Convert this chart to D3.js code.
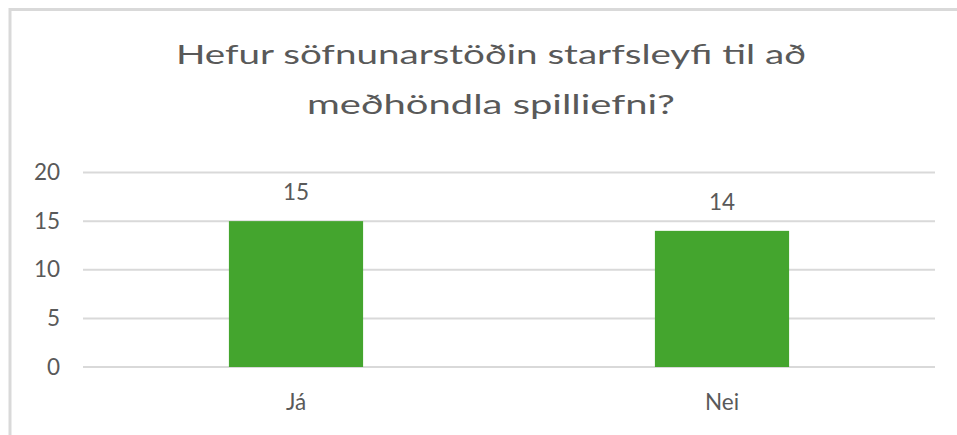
<!DOCTYPE html>
<html>
<head>
<meta charset="utf-8">
<script src="https://cdn.jsdelivr.net/npm/d3@7"></script>
<style>
    html, body { margin: 0; padding: 0; background: #fff; }
    #chart { width: 957px; height: 435px; }
    text { font-family: Lato, "Open Sans", sans-serif; fill: #595959; }
</style>
</head>
<body>
<div id="chart"></div>
<script>
// Hefur söfnunarstöðin starfsleyfi til að meðhöndla spilliefni?
const titleLines = ["Hefur söfnunarstöðin starfsleyfi til að", "meðhöndla spilliefni?"];
const categories = ["Já", "Nei"];
const counts = [15, 14];
const yTicks = [0, 5, 10, 15, 20];

(() => {
    const sel = d3.select("#chart");
    const W = 957, H = 435;
    const m = { top: 172.5, right: 22, bottom: 68, left: 83 };
    const w = W - m.left - m.right;
    const h = H - m.top - m.bottom;

    const svg = sel.append("svg").attr("width", W).attr("height", H);

    // outer chart frame (cut off at right/bottom like the screenshot)
    svg.append("rect")
        .attr("x", 10).attr("y", 9.5)
        .attr("width", W + 20).attr("height", H + 20)
        .attr("fill", "none").attr("stroke", "#d9d9d9").attr("stroke-width", 3);

    // title
    const tw = [630, 368];
    svg.append("g").selectAll("text")
        .data(titleLines)
        .join("text")
        .attr("x", 491)
        .attr("y", (d, i) => 63.5 + i * 50)
        .attr("text-anchor", "middle")
        .attr("font-size", 27.5)
        .attr("textLength", (d, i) => tw[i])
        .attr("lengthAdjust", "spacingAndGlyphs")
        .text(d => d);

    const g = svg.append("g").attr("transform", `translate(${m.left},${m.top})`);

    const x = d3.scaleBand().domain(categories).range([0, w]).paddingInner(0.685).paddingOuter(0.3425);
    const y = d3.scaleLinear().domain([0, 20]).range([h, 0]);

    // gridlines
    g.append("g").selectAll("line")
        .data(yTicks)
        .join("line")
        .attr("x1", 0).attr("x2", w)
        .attr("y1", d => y(d)).attr("y2", d => y(d))
        .attr("stroke", "#d9d9d9").attr("stroke-width", 2);

    // y axis labels
    const yAxis = g.append("g")
        .call(d3.axisLeft(y).tickValues(yTicks).tickSize(0).tickPadding(23));
    yAxis.select(".domain").remove();
    yAxis.selectAll("text").attr("font-size", 22.5).attr("fill", "#595959")
        .attr("font-family", "Lato, sans-serif");

    // x axis labels
    const xAxis = g.append("g").attr("transform", `translate(0,${h})`)
        .call(d3.axisBottom(x).tickSize(0).tickPadding(27));
    xAxis.select(".domain").remove();
    xAxis.selectAll("text").attr("font-size", 22.5).attr("fill", "#595959")
        .attr("font-family", "Lato, sans-serif");

    const data = categories.map((c, i) => ({ cat: c, val: counts[i] }));

    g.selectAll("rect.bar")
        .data(data)
        .join("rect")
        .attr("class", "bar")
        .attr("x", d => x(d.cat))
        .attr("y", d => y(d.val))
        .attr("width", x.bandwidth())
        .attr("height", d => h - y(d.val))
        .attr("fill", "#44a52e");

    g.selectAll("text.val")
        .data(data)
        .join("text")
        .attr("class", "val")
        .attr("x", d => x(d.cat) + x.bandwidth() / 2)
        .attr("y", d => y(d.val) - 21)
        .attr("text-anchor", "middle")
        .attr("font-size", 22.5)
        .text(d => d.val);
})();
</script>
</body>
</html>
